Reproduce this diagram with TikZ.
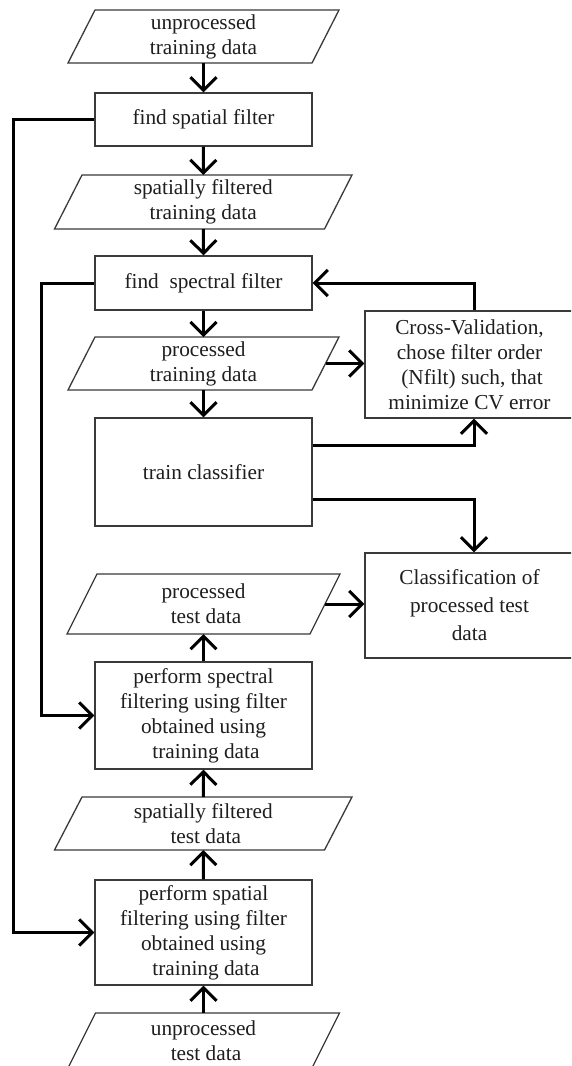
\documentclass[tikz,border=0pt]{standalone}
\usepackage{fontspec}
\setmainfont{Liberation Serif}
\usetikzlibrary{arrows.meta}
\definecolor{boxgray}{HTML}{3A3A3A}
\definecolor{txtcol}{HTML}{1E1E1E}
\newcommand{\diagfont}{\fontsize{21.3pt}{25pt}\selectfont}
\newcommand{\lsp}{\hspace*{5pt}}
\newcommand{\paral}[2]{%
  \draw[boxline] ([xshift=#2pt]#1.north west) -- ([xshift=#2pt]#1.north east)
    -- ([xshift=-#2pt]#1.south east) -- ([xshift=-#2pt]#1.south west) -- cycle;}
\tikzset{
  boxline/.style={draw=boxgray, line width=1.3pt, line join=miter},
  procbox/.style={boxline, minimum width=217pt, inner sep=0pt, align=center,
    font=\diagfont, text=txtcol},
  sidebox/.style={boxline, minimum width=209pt, inner sep=0pt, align=center,
    font=\diagfont, text=txtcol},
  datanode/.style={inner sep=0pt, outer sep=0pt, align=center, font=\diagfont,
    text=txtcol},
  link/.style={line width=3pt, black},
  flow/.style={link, -{Straight Barb[length=13pt,width=26pt,line width=3pt]}}
}
\begin{document}
\begin{tikzpicture}[x=1pt,y=-1pt]
\useasboundingbox (0,0) rectangle (571,1066);
\clip (0,0) rectangle (571,1066);
\fill[white] (0,0) rectangle (571,1066);

% main column
\node[datanode, minimum width=244pt, minimum height=53pt] (utr) at (203.5,36.5) {unprocessed\\training data};
\paral{utr}{13.5}
\node[procbox, minimum height=53pt] (fsp) at (203.5,119.5) {find spatial filter};
\node[datanode, minimum width=270pt, minimum height=54pt] (sftr) at (203.25,202) {spatially filtered\\training data};
\paral{sftr}{13.75}
\node[procbox, minimum height=54pt] (fspec) at (203.5,283) {find~ spectral filter};
\node[datanode, minimum width=244pt, minimum height=53pt] (ptr) at (203.5,363.5) {processed\\training data};
\paral{ptr}{13.5}
\node[procbox, minimum height=108pt] (tc) at (203.5,472) {train classifier};
\node[datanode, minimum width=243pt, minimum height=60pt] (pte) at (203.5,604) {processed\\\lsp test data};
\paral{pte}{15}
\node[procbox, minimum height=107pt] (psf) at (203.5,715.5) {perform spectral\\filtering using filter\\obtained using\\\lsp training data};
\node[datanode, minimum width=270pt, minimum height=53pt] (sfte) at (203.25,823.5) {spatially filtered\\\lsp test data};
\paral{sfte}{13.75}
\node[procbox, minimum height=105pt] (pspat) at (203.5,932.5) {perform spatial\\filtering using filter\\obtained using\\\lsp training data};
\node[datanode, minimum width=244pt, minimum height=56pt] (ute) at (203.5,1041) {unprocessed\\\lsp test data};
\paral{ute}{14}

% side column
\node[sidebox, minimum height=107pt] (cv) at (469.5,364.5) {Cross-Validation,\\chose filter order\\\lsp(Nfilt) such, that\\minimize CV error};
\node[sidebox, minimum height=105pt, font=\fontsize{21.3pt}{28pt}\selectfont] (cls) at (469.5,605.5) {Classification of\\processed test\lsp\\data};

% corner coordinates for the long feedback lines
\coordinate (outerx) at (13,0);
\coordinate (innerx) at (41,0);

% downward flow
\draw[flow] (utr.south) -- (fsp.north);
\draw[flow] (fsp.south) -- (sftr.north);
\draw[flow] (sftr.south) -- (fspec.north);
\draw[flow] (fspec.south) -- (ptr.north);
\draw[flow] (ptr.south) -- (tc.north);

% upward flow (test data)
\draw[flow] (ute.north) -- (pspat.south);
\draw[flow] (pspat.north) -- (sfte.south);
\draw[flow] (sfte.north) -- (psf.south);
\draw[flow] (psf.north) -- (pte.south);

% side connections
\draw[flow] (ptr.east) -- (ptr.east -| cv.west);
\draw[flow] (pte.east) -- (pte.east -| cls.west);
\draw[flow] ([yshift=27pt]tc.east) -| ([xshift=4.5pt]cv.south);
\draw[flow] ([yshift=-27pt]tc.east) -| ([xshift=4.5pt]cls.north);
\draw[flow] ([xshift=4.5pt]cv.north) |- (fspec.east);

% feedback of filters
\draw[flow] (fsp.west) -- (fsp.west -| outerx) |- (pspat.west);
\draw[flow] (fspec.west) -- (fspec.west -| innerx) |- (psf.west);
\end{tikzpicture}
\end{document}
